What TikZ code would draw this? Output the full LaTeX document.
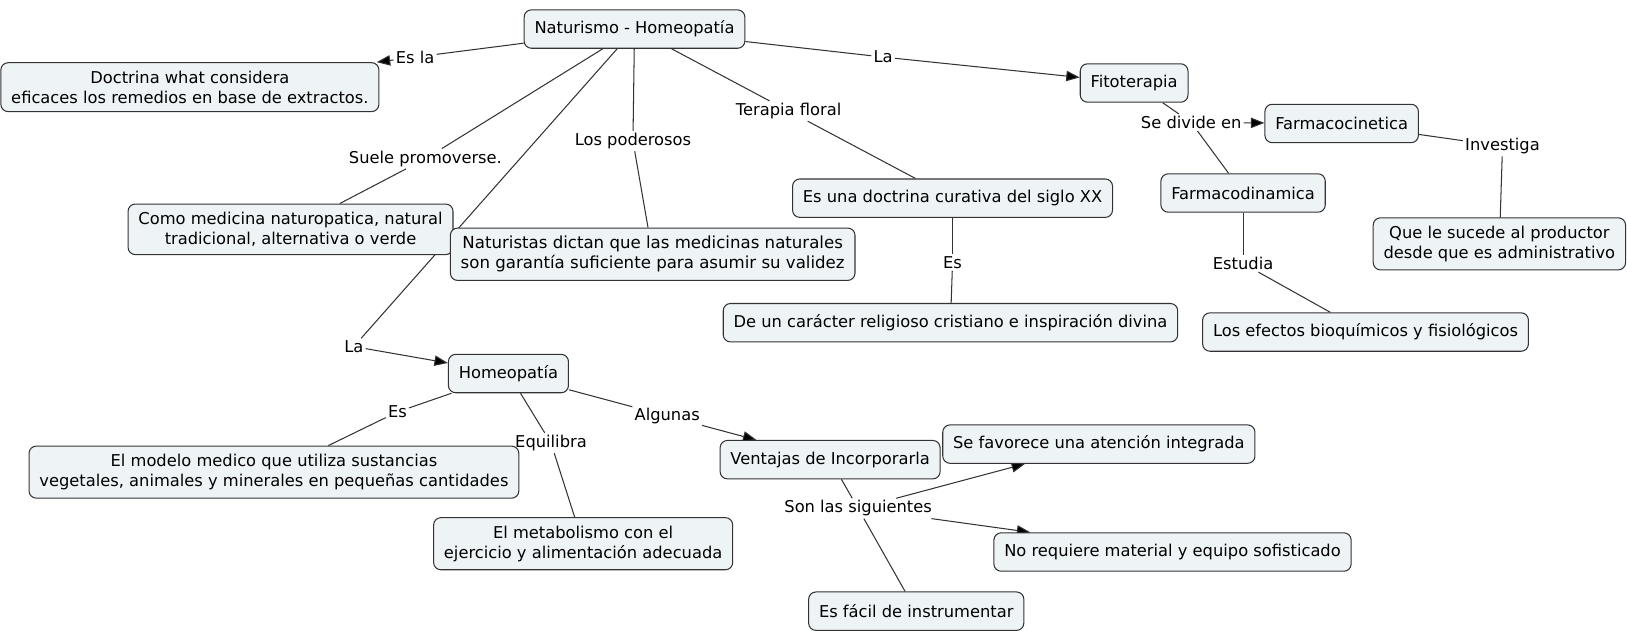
\documentclass[tikz,border=0pt]{standalone}
\usepackage{fontspec}
\setmainfont{DejaVu Sans}
\usepackage{xcolor}
\usepackage{tikz}
\usetikzlibrary{positioning,calc,arrows.meta}

\definecolor{cmapfill}{HTML}{EEF3F6}
\definecolor{cmapline}{HTML}{333333}
\pgfdeclarelayer{background}
\pgfsetlayers{background,main}

\begin{document}
\begin{tikzpicture}[x=1pt, y=-1pt,
    concept/.style={draw=cmapline, fill=cmapfill, rounded corners=7pt, line width=1pt,
        align=center, inner xsep=10pt, inner ysep=8pt, minimum height=37pt,
        font=\fontsize{15.7}{19}\selectfont},
    link/.style={inner sep=2pt, font=\fontsize{15.7}{19}\selectfont},
    conn/.style={draw=cmapline, line width=1pt},
    arr/.style={conn, -{Triangle[length=13pt, width=10pt, fill=black]}}]
    \useasboundingbox (0,0) rectangle (1568,608);

    % Concepts
    \node[concept] (nat)    at (611.5,28) {Naturismo - Homeopatía};
    \node[concept] (doc)    at (183,84)   {Doctrina what considera\\eficaces los remedios en base de extractos.};
    \node[concept] (fito)   at (1093,80)  {Fitoterapia};
    \node[concept] (fcin)   at (1293,119) {Farmacocinetica};
    \node[concept] (fdin)   at (1198,186) {Farmacodinamica};
    \node[concept] (que)    at (1445,235) {Que le sucede al productor\\desde que es administrativo};
    \node[concept] (efec)   at (1316,320) {Los efectos bioquímicos y fisiológicos};
    \node[concept] (esuna)  at (918,191)  {Es una doctrina curativa del siglo XX};
    \node[concept] (deun)   at (916,311)  {De un carácter religioso cristiano e inspiración divina};
    \node[concept] (como)   at (280,221)  {Como medicina naturopatica, natural\\tradicional, alternativa o verde};
    \node[concept, font=\fontsize{16}{19}\selectfont] (natu) at (629,245)
        {Naturistas dictan que las medicinas naturales\\son garantía suficiente para asumir su validez};
    \node[concept] (homeo)  at (490,360)  {Homeopatía};
    \node[concept] (modelo) at (264,455)  {El modelo medico que utiliza sustancias\\vegetales, animales y minerales en pequeñas cantidades};
    \node[concept] (metab)  at (562,524)  {El metabolismo con el\\ejercicio y alimentación adecuada};
    \node[concept] (vent)   at (800,443)  {Ventajas de Incorporarla};
    \node[concept] (sefav)  at (1059,428) {Se favorece una atención integrada};
    \node[concept] (noreq)  at (1130,532) {No requiere material y equipo sofisticado};
    \node[concept] (esfac)  at (883,589)  {Es fácil de instrumentar};

    % Linking phrases
    \node[link] (esla)      at (400,55)   {Es la};
    \node[link] (la1)       at (851,55)   {La};
    \node[link] (divide)    at (1148,118) {Se divide en};
    \node[link] (investiga) at (1448,141) {Investiga};
    \node[link] (estudia)   at (1198,254) {Estudia};
    \node[link] (terapia)   at (760,107)  {Terapia floral};
    \node[link] (es1)       at (918,253)  {Es};
    \node[link] (poder)     at (610,136)  {Los poderosos};
    \node[link] (suele)     at (410,153)  {Suele promoverse.};
    \node[link] (la2)       at (341,334)  {La};
    \node[link] (es2)       at (383,397)  {Es};
    \node[link] (equil)     at (531,427)  {Equilibra};
    \node[link] (algunas)   at (643,401)  {Algunas};
    \node[link] (son)       at (827,490)  {Son las siguientes};

    % Connectors (behind the boxes)
    \begin{pgfonlayer}{background}
        \draw[conn] (nat) -- (esla);
        \draw[arr] (esla) -- (doc);
        \draw[conn] (nat) -- (la1);
        \draw[arr] (la1) -- (fito);
        \draw[conn] (fito) -- (divide);
        \draw[arr] (divide) -- (fcin);
        \draw[conn] (divide) -- (fdin);
        \draw[conn] (fcin) -- (investiga);
        \draw[conn] (investiga) -- (que);
        \draw[conn] (fdin) -- (estudia);
        \draw[conn] (estudia) -- (efec);
        \draw[conn] (nat) -- (terapia);
        \draw[conn] (terapia) -- (esuna);
        \draw[conn] (esuna) -- (es1);
        \draw[conn] (es1) -- (deun);
        \draw[conn] (nat) -- (poder);
        \draw[conn] (poder) -- (natu);
        \draw[conn] (nat) -- (suele);
        \draw[conn] (suele) -- (como);
        \draw[conn] (nat) -- (la2);
        \draw[arr] (la2) -- (homeo);
        \draw[conn] (homeo) -- (es2);
        \draw[conn] (es2) -- (modelo);
        \draw[conn] (homeo) -- (equil);
        \draw[conn] (equil) -- (metab);
        \draw[conn] (homeo) -- (algunas);
        \draw[arr] (algunas) -- (vent);
        \draw[conn] (vent) -- (son);
        \draw[arr] (son) -- (sefav);
        \draw[arr] (son) -- (noreq);
        \draw[conn] (son) -- (esfac);
    \end{pgfonlayer}
\end{tikzpicture}
\end{document}
